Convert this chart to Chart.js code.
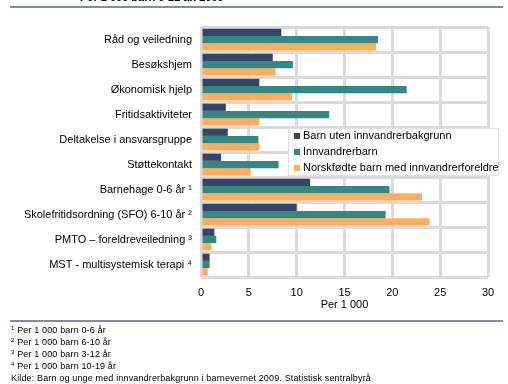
<!DOCTYPE html>
<html>
<head>
<meta charset="utf-8">
<script src="https://cdn.jsdelivr.net/npm/chart.js@4/dist/chart.umd.min.js"></script>
<style>
  body { margin: 0; background: #fff; font-family: "Liberation Sans", Arial, sans-serif; }
  #wrap { position: relative; width: 508px; height: 384px; overflow: hidden; }
  #chart { position: absolute; left: 0; top: 0; }
  .title { position: absolute; left: 80px; top: -9px; font-size: 11px; font-weight: bold; color: #000; }
  .rule { position: absolute; left: 10px; width: 493px; height: 2px; background: #7f8ca8; }
  .notes { position: absolute; left: 11px; top: 324px; font-size: 9px; letter-spacing: 0.15px; color: #000; }
  .notes div { height: 12px; line-height: 12px; white-space: nowrap; }
  .notes sup { font-size: 6px; line-height: 0; vertical-align: 3px; }
</style>
</head>
<body>
<div id="wrap">
  <canvas id="chart" width="508" height="384"></canvas>
  <div class="title">Per 1 000 barn 0-22 år. 2009</div>
  <div class="rule" style="top:6px"></div>
  <div class="rule" style="top:320px"></div>
  <div class="notes">
    <div><sup>1</sup> Per 1 000 barn 0-6 år</div>
    <div><sup>2</sup> Per 1 000 barn 6-10 år</div>
    <div><sup>3</sup> Per 1 000 barn 3-12 år</div>
    <div><sup>4</sup> Per 1 000 barn 10-19 år</div>
    <div>Kilde: Barn og unge med innvandrerbakgrunn i barnevernet 2009. Statistisk sentralbyrå</div>
  </div>
</div>
<script>
  const categories = [
    "Råd og veiledning",
    "Besøkshjem",
    "Økonomisk hjelp",
    "Fritidsaktiviteter",
    "Deltakelse i ansvarsgruppe",
    "Støttekontakt",
    "Barnehage 0-6 år ¹",
    "Skolefritidsordning (SFO) 6-10 år ²",
    "PMTO – foreldreveiledning ³",
    "MST - multisystemisk terapi ⁴"
  ];
  const seriesNames = [
    "Barn uten innvandrerbakgrunn",
    "Innvandrerbarn",
    "Norskfødte barn med innvandrerforeldre"
  ];
  const withoutBackground = [8.4, 7.5, 6.1, 2.6, 2.8, 2.1, 11.4, 10.0, 1.4, 0.9];
  const immigrantChildren = [18.5, 9.6, 21.5, 13.4, 6.0, 8.1, 19.7, 19.3, 1.6, 0.9];
  const norwegianBorn = [18.3, 7.8, 9.5, 6.1, 6.1, 5.2, 23.1, 23.9, 1.1, 0.7];
  const xTicks = [0, 5, 10, 15, 20, 25, 30];
  const colors = ["#354469", "#358783", "#ffac5b"];

  // legend drawn inside the plot area, like the original
  const boxLegend = {
    id: "boxLegend",
    afterDraw(chart) {
      const ctx = chart.ctx;
      const x = 288, y = 128, w = 211, h = 48;
      ctx.save();
      ctx.fillStyle = "#fff";
      ctx.fillRect(x, y, w, h);
      ctx.strokeStyle = "#e2e2e2";
      ctx.lineWidth = 1;
      ctx.strokeRect(x + 0.5, y + 0.5, w - 1, h - 1);
      ctx.font = "11px 'Liberation Sans', Arial, sans-serif";
      ctx.textBaseline = "middle";
      chart.data.datasets.forEach((ds, i) => {
        const cy = y + 8 + i * 16;
        ctx.fillStyle = ds.backgroundColor;
        ctx.fillRect(x + 6, cy - 3, 6, 6);
        ctx.fillStyle = "#000";
        ctx.fillText(ds.label, x + 15, cy);
      });
      ctx.restore();
    }
  };

  new Chart(document.getElementById("chart"), {
    type: "bar",
    data: {
      labels: categories,
      datasets: [
        { label: seriesNames[0], data: withoutBackground, backgroundColor: colors[0] },
        { label: seriesNames[1], data: immigrantChildren, backgroundColor: colors[1] },
        { label: seriesNames[2], data: norwegianBorn, backgroundColor: colors[2] }
      ]
    },
    options: {
      indexAxis: "y",
      responsive: false,
      animation: false,
      categoryPercentage: 0.87,
      barPercentage: 1.0,
      layout: { padding: { left: 0, right: 20, top: 27, bottom: 72 } },
      plugins: {
        legend: { display: false },
        tooltip: { enabled: false }
      },
      scales: {
        x: {
          min: 0,
          max: 30,
          afterFit: (s) => { s.height = 35; },
          afterBuildTicks: (s) => { s.ticks = xTicks.map(v => ({ value: v })); },
          grid: { color: "#dadada", lineWidth: 3, drawTicks: false },
          border: { display: false },
          ticks: { padding: 9, color: "#000", font: { size: 11, family: "'Liberation Sans', Arial, sans-serif" } },
          title: {
            display: true,
            text: "Per 1 000",
            color: "#000",
            padding: { top: 0, bottom: 0 },
            font: { size: 11, family: "'Liberation Sans', Arial, sans-serif" }
          }
        },
        y: {
          afterFit: (s) => { s.width = 201; },
          grid: { color: "#dadada", lineWidth: 3, drawTicks: false },
          border: { display: false },
          ticks: { padding: 9, color: "#000", font: { size: 11, family: "'Liberation Sans', Arial, sans-serif" } }
        }
      }
    },
    plugins: [boxLegend]
  });
</script>
</body>
</html>
